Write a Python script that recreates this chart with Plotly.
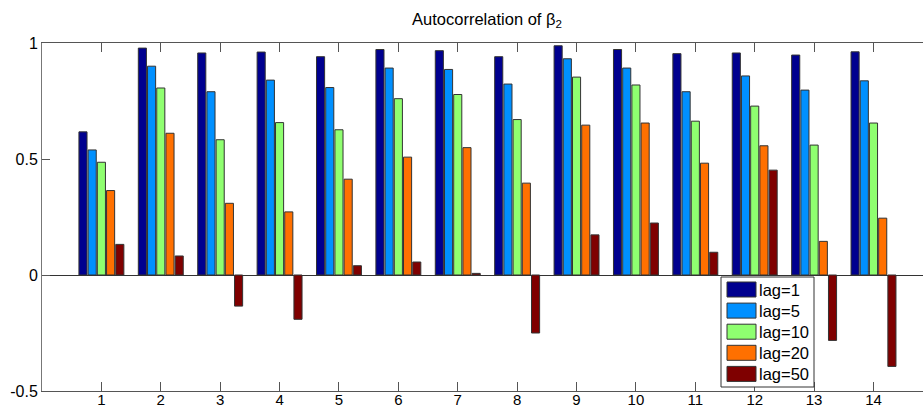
import plotly.graph_objects as go

# Autocorrelation of the beta_2 chains for 14 parameters at several lags
params = list(range(1, 15))
lag_labels = ["lag=1", "lag=5", "lag=10", "lag=20", "lag=50"]

lag1 = [0.617, 0.978, 0.957, 0.961, 0.941, 0.972, 0.967, 0.941, 0.988, 0.972, 0.954, 0.957, 0.948, 0.962]
lag5 = [0.539, 0.900, 0.790, 0.840, 0.808, 0.892, 0.886, 0.823, 0.932, 0.892, 0.790, 0.858, 0.797, 0.837]
lag10 = [0.486, 0.806, 0.583, 0.657, 0.626, 0.760, 0.778, 0.670, 0.853, 0.819, 0.663, 0.728, 0.560, 0.655]
lag20 = [0.364, 0.611, 0.309, 0.272, 0.413, 0.508, 0.549, 0.396, 0.646, 0.655, 0.482, 0.557, 0.145, 0.245]
lag50 = [0.132, 0.082, -0.134, -0.191, 0.040, 0.056, 0.007, -0.250, 0.173, 0.224, 0.098, 0.452, -0.282, -0.394]

series = [lag1, lag5, lag10, lag20, lag50]
colors = ["#00008F", "#0090FF", "#8FFF70", "#FF7000", "#7F0000"]

y_ticks = [-0.5, 0, 0.5, 1]
y_tick_text = ["-0.5", "0", "0.5", "1"]

W, H = 923, 409
ML, MR, MT, MB = 42, 0, 43, 18
FONT = "Liberation Sans, Arial, sans-serif"

fig = go.Figure()
for name, vals, col in zip(lag_labels, series, colors):
    fig.add_trace(go.Bar(
        x=params, y=vals, name=name,
        marker=dict(color=col, line=dict(color="#333333", width=1)),
        showlegend=False,
    ))

# Boxed legend in the lower right of the axes
pw, ph = W - ML - MR, H - MT - MB


def px_x(p):
    return (p - ML) / pw


def px_y(p):
    return (H - MB - p) / ph


shapes = [dict(type="rect", xref="paper", yref="paper",
               x0=px_x(721), x1=px_x(814), y0=px_y(387), y1=px_y(277),
               fillcolor="white", line=dict(color="#333333", width=1), layer="above")]
annotations = []
for i, (name, col) in enumerate(zip(lag_labels, colors)):
    cy = 289.5 + i * 21.1
    shapes.append(dict(type="rect", xref="paper", yref="paper",
                       x0=px_x(727), x1=px_x(756), y0=px_y(cy + 7.5), y1=px_y(cy - 7.5),
                       fillcolor=col, line=dict(color="#333333", width=1), layer="above"))
    annotations.append(dict(xref="paper", yref="paper", x=px_x(757), y=px_y(cy),
                            text=name, showarrow=False, xanchor="left", yanchor="middle",
                            font=dict(family=FONT, size=16.5, color="black")))

fig.update_layout(
    width=W, height=H,
    margin=dict(l=ML, r=MR, t=MT, b=MB, pad=0),
    paper_bgcolor="white", plot_bgcolor="white",
    barmode="group", bargap=0.225, bargroupgap=0.12,
    font=dict(family=FONT, size=16, color="black"),
    title=dict(text="Autocorrelation of β<sub>2</sub>", x=487 / W, xref="container", xanchor="center",
               y=1 - 19 / H, yref="container", yanchor="middle",
               font=dict(family=FONT, size=16.5, color="black")),
    shapes=shapes, annotations=annotations,
    showlegend=False,
)
fig.update_xaxes(
    range=[0, 1 + (W - MR - 101.3) / 59.4], tickvals=params, ticktext=[str(p) for p in params],
    showline=True, linecolor="#555555", linewidth=1, mirror="ticks",
    ticks="inside", ticklen=9, tickcolor="#555555", tickwidth=1,
    ticklabelstandoff=-5,
    showgrid=False, zeroline=False, automargin=False,
    tickfont=dict(family=FONT, size=15, color="black"),
)
fig.update_yaxes(
    range=[-0.5, 1], tickvals=y_ticks, ticktext=y_tick_text,
    showline=True, linecolor="#777777", linewidth=1, mirror=False,
    ticks="inside", ticklen=8, tickcolor="#555555", tickwidth=1,
    showgrid=False, zeroline=True, zerolinecolor="#333333", zerolinewidth=1,
    automargin=False,
    tickfont=dict(family=FONT, size=16, color="black"),
)

fig.write_html("out.html")
